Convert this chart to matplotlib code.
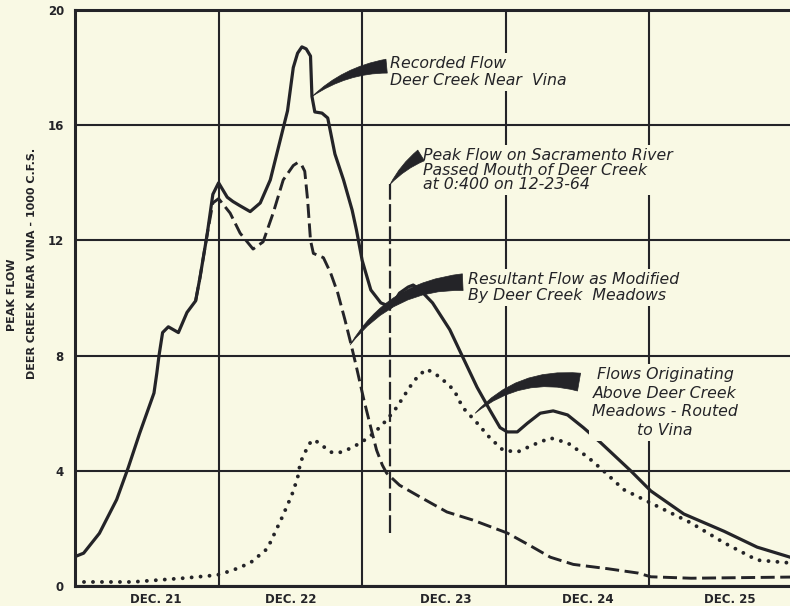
"""
Deer Creek near Vina - peak flow hydrographs, Dec 21-25 1964.
"""

import matplotlib

matplotlib.use("Agg")
import matplotlib.pyplot as plt

# ---------------------------------------------------------------- data ---
# x in days from 0:00 Dec 21, y in 1000 c.f.s.
recorded_x = [0.00, 0.06, 0.17, 0.29, 0.37, 0.45, 0.55, 0.57, 0.585, 0.61,
              0.65, 0.72, 0.78, 0.84, 0.87, 0.92, 0.96, 1.00, 1.06, 1.10,
              1.15, 1.22, 1.29, 1.36, 1.43, 1.48, 1.52, 1.55, 1.58, 1.61,
              1.64, 1.65, 1.67, 1.72, 1.76, 1.81, 1.87, 1.93, 1.96, 2.00,
              2.06, 2.13, 2.20, 2.26, 2.32, 2.355, 2.40, 2.49, 2.61, 2.70,
              2.80, 2.89, 2.96, 3.01, 3.08, 3.15, 3.24, 3.33, 3.43, 3.54,
              3.66, 3.87, 4.01, 4.24, 4.52, 4.75, 4.98]
recorded_y = [1.02, 1.14, 1.83, 3.0, 4.1, 5.3, 6.7, 7.4, 8.0, 8.8,
              9.0, 8.8, 9.5, 9.9, 10.7, 12.2, 13.6, 14.0, 13.5, 13.35,
              13.2, 13.0, 13.3, 14.1, 15.5, 16.5, 18.0, 18.5, 18.72, 18.65,
              18.4, 17.0, 16.46, 16.42, 16.25, 15.0, 14.1, 13.05, 12.36, 11.3,
              10.28, 9.83, 9.69, 10.17, 10.38, 10.45, 10.3, 9.83, 8.9, 7.95,
              6.9, 6.1, 5.5, 5.35, 5.35, 5.65, 6.0, 6.08, 5.94, 5.5,
              4.98, 4.0, 3.3, 2.5, 1.9, 1.35, 1.0]

resultant_x = [0.84, 0.87, 0.92, 0.96, 1.00, 1.08, 1.15, 1.24, 1.31, 1.38,
               1.45, 1.52, 1.55, 1.58, 1.60, 1.62, 1.64, 1.66, 1.73, 1.78,
               1.83, 1.88, 1.92, 1.96, 2.01, 2.06, 2.10, 2.14, 2.17, 2.26,
               2.40, 2.59, 2.77, 3.01, 3.17, 3.31, 3.47, 3.71, 3.92, 4.01,
               4.29, 4.98]
resultant_y = [9.9, 10.7, 12.2, 13.3, 13.45, 12.95, 12.25, 11.7, 11.95, 12.95,
               14.1, 14.6, 14.7, 14.6, 14.4, 13.4, 12.0, 11.55, 11.4, 10.87,
               10.17, 9.24, 8.44, 7.6, 6.5, 5.5, 4.72, 4.2, 3.92, 3.5,
               3.1, 2.57, 2.29, 1.84, 1.4, 1.0, 0.75, 0.6, 0.45, 0.32,
               0.27, 0.31]

upstream_x = [0.00, 0.40, 0.75, 0.99, 1.10, 1.22, 1.34, 1.44, 1.51, 1.55,
              1.57, 1.62, 1.65, 1.69, 1.78, 1.83, 1.88, 1.99, 2.08, 2.17,
              2.24, 2.33, 2.39, 2.45, 2.54, 2.64, 2.70, 2.80, 2.89, 2.98,
              3.08, 3.19, 3.31, 3.43, 3.57, 3.68, 3.82, 4.01, 4.29, 4.52,
              4.75, 4.98]
upstream_y = [0.14, 0.14, 0.27, 0.38, 0.55, 0.8, 1.3, 2.36, 3.16, 3.75,
              4.3, 4.83, 5.07, 5.0, 4.65, 4.62, 4.69, 4.97, 5.3, 5.76,
              6.2, 6.9, 7.3, 7.53, 7.26, 6.8, 6.2, 5.66, 5.14, 4.72,
              4.65, 4.9, 5.14, 4.97, 4.48, 4.0, 3.35, 2.88, 2.19, 1.5,
              0.9, 0.8]

sacramento_peak_x = 2.195
sacramento_peak_y = [1.85, 13.95]

y_ticks = [0, 4, 8, 12, 16, 20]
day_grid = [1, 2, 3, 4]
day_labels = ["DEC. 21", "DEC. 22", "DEC. 23", "DEC. 24", "DEC. 25"]
day_label_pos = [0.56, 1.50, 2.58, 3.57, 4.56]

# --------------------------------------------------------------- style ---
BG = "#f9f9e4"
INK = "#242428"
PX_PER_DAY = 143.6

fig = plt.figure(figsize=(7.9, 6.06), dpi=100, facecolor=BG)
ax = fig.add_axes([75 / 790, 20 / 606, 715 / 790, 576 / 606], facecolor=BG)
ax.set_xlim(0, 715 / PX_PER_DAY)
ax.set_ylim(0, 20)

ax.set_xticks(day_grid)
ax.set_xticklabels([])
ax.set_xticks(day_label_pos, day_labels, minor=True)
ax.set_yticks(y_ticks, [str(v) for v in y_ticks])
ax.tick_params(which="both", length=0)
ax.tick_params(axis="y", pad=8, labelsize=8.5, labelcolor=INK)
ax.tick_params(axis="x", which="minor", pad=5, labelsize=8.5, labelcolor=INK)
for lab in ax.get_yticklabels() + ax.get_xticklabels(minor=True):
    lab.set_fontweight("bold")

ax.grid(True, which="major", color=INK, linewidth=1.5)
ax.set_axisbelow(True)
for side in ("left", "bottom", "top"):
    ax.spines[side].set_color(INK)
    ax.spines[side].set_linewidth(2.2)
ax.spines["right"].set_visible(False)

# ------------------------------------------------------------- curves ---
ax.plot(recorded_x, recorded_y, color=INK, linewidth=2.3,
        solid_joinstyle="round", zorder=4)
ax.plot(resultant_x, resultant_y, color=INK, linewidth=2.1,
        dashes=(4.8, 1.9), zorder=4)
ax.plot(upstream_x, upstream_y, color=INK, linewidth=2.8,
        dashes=(0.01, 2.3), dash_capstyle="round", zorder=4)
ax.plot([sacramento_peak_x, sacramento_peak_x], sacramento_peak_y,
        color=INK, linewidth=1.6, dashes=(8, 2), zorder=4)

# --------------------------------------------------------- annotations ---
note_kw = dict(fontsize=11.3, fontstyle="italic", color=INK, zorder=5,
               bbox=dict(boxstyle="square,pad=0.2", fc=BG, ec="none"))

ax.text(2.195, 18.4, "Recorded Flow\nDeer Creek Near  Vina",
        ha="left", va="top", linespacing=1.15, **note_kw)
ax.text(2.425, 15.2,
        "Peak Flow on Sacramento River\nPassed Mouth of Deer Creek\nat 0:400 on 12-23-64",
        ha="left", va="top", linespacing=0.95, **note_kw)
ax.text(2.74, 10.9, "Resultant Flow as Modified\nBy Deer Creek  Meadows",
        ha="left", va="top", linespacing=1.1, **note_kw)
ax.text(4.11, 7.6, "Flows Originating\nAbove Deer Creek\nMeadows - Routed\nto Vina",
        ha="center", va="top", multialignment="center", linespacing=1.3,
        **note_kw)

# tapered pointers: (tail at text, tip on curve, width, bend)
pointers = [
    ((2.17, 18.05), (1.652, 17.0), 1.0, 0.15),
    ((2.41, 14.95), (2.195, 13.95), 0.9, 0.1),
    ((2.70, 10.55), (1.916, 8.37), 1.2, 0.25),
    ((3.51, 7.08), (2.787, 6.0), 1.3, 0.25),
]
for tail, tip, width, bend in pointers:
    ax.annotate("", xy=tip, xytext=tail, zorder=6,
                arrowprops=dict(arrowstyle=f"wedge,tail_width={width},shrink_factor=0.5",
                                connectionstyle=f"arc3,rad={bend}",
                                mutation_scale=10, fc=INK, ec=INK, lw=0.5,
                                shrinkA=0, shrinkB=0))

# ------------------------------------------------------------ y label ---
fig.text(12 / 790, 1 - 295 / 606, "PEAK FLOW", rotation=90,
         ha="center", va="center", fontsize=8, fontweight="bold", color=INK)
fig.text(32 / 790, 1 - 263 / 606, "DEER CREEK NEAR VINA - 1000 C.F.S.",
         rotation=90, ha="center", va="center", fontsize=8,
         fontweight="bold", color=INK)

fig.savefig("out.png", dpi=100, facecolor=BG)
plt.close(fig)
